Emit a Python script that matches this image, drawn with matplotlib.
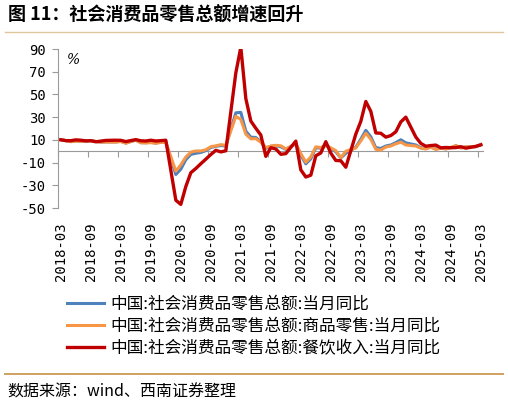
# -*- coding: utf-8 -*-
"""Retail sales growth chart: total, goods retail and catering (yoy)."""

import numpy as np
import matplotlib
matplotlib.use('Agg')
import matplotlib.pyplot as plt
from matplotlib.lines import Line2D

plt.rcParams['font.family'] = ['Noto Sans CJK SC', 'DejaVu Sans']
plt.rcParams['axes.unicode_minus'] = False

# Months with data (January is published together with February):
lstDate = ['2018-%02d' % m for m in range(3, 13)]
for varYr in range(2019, 2025):
    lstDate += ['%d-%02d' % (varYr, m) for m in range(2, 13)]
lstDate += ['2025-02', '2025-03']

# 中国:社会消费品零售总额:当月同比
lstTotal = [10.1, 9.4, 8.5, 9.0, 8.8, 9.0, 9.2, 8.6, 8.1, 8.2,
            8.2, 8.7, 7.2, 8.6, 9.8, 7.6, 7.5, 7.8, 7.2, 8.0, 8.0,
            -20.5, -15.8, -7.5, -2.8, -1.8, -1.1, 0.5, 3.3, 4.3, 5.0, 4.6,
            33.8, 34.2, 17.7, 12.4, 12.1, 8.5, 2.5, 4.4, 4.9, 3.9, 1.7,
            6.7, -3.5, -11.1, -6.7, 3.1, 2.7, 5.4, 2.5, -0.5, -5.9, -1.8,
            3.5, 10.6, 18.4, 12.7, 3.1, 2.5, 4.6, 5.5, 7.6, 10.1, 7.4,
            5.5, 3.1, 2.3, 3.7, 2.0, 2.7, 2.1, 3.2, 4.8, 3.0, 3.7,
            4.0, 5.9]

# 中国:社会消费品零售总额:商品零售:当月同比
lstGoods = [10.1, 9.4, 8.4, 8.9, 8.7, 9.0, 9.2, 8.6, 8.0, 8.1,
            8.0, 8.6, 7.0, 8.5, 9.8, 7.4, 7.3, 7.6, 7.0, 7.8, 7.8,
            -17.6, -12.0, -5.1, -0.8, 0.2, 0.2, 1.3, 4.0, 4.7, 5.8, 5.2,
            30.7, 28.0, 15.1, 10.9, 11.1, 7.9, 3.3, 4.5, 5.2, 4.8, 2.0,
            6.5, -2.1, -9.7, -5.0, 3.9, 3.2, 5.1, 2.9, 0.5, -5.6, 0.0,
            2.9, 9.1, 15.9, 10.5, 1.7, 1.0, 3.7, 4.6, 6.5, 8.0, 5.5,
            4.6, 2.7, 2.0, 3.6, 1.5, 2.7, 2.0, 3.2, 5.0, 2.8, 3.9,
            3.9, 5.9]

# 中国:社会消费品零售总额:餐饮收入:当月同比
lstCater = [10.1, 9.3, 9.3, 10.0, 9.7, 9.1, 9.3, 8.3, 8.9, 9.5,
            9.7, 9.6, 8.5, 9.4, 10.2, 9.2, 9.0, 9.7, 9.0, 9.3, 9.7,
            -43.1, -46.8, -31.1, -18.9, -15.2, -11.0, -7.0, -2.9, 0.8, -0.6,
            0.4,
            68.9, 91.6, 46.4, 26.6, 20.2, 14.3, -4.5, 3.1, 2.0, -2.7, -2.1,
            8.9, -16.4, -22.7, -21.1, -4.0, -1.5, 8.4, -1.7, -8.1, -8.4,
            -14.1,
            15.1, 26.3, 43.8, 35.1, 16.1, 15.8, 12.4, 13.8, 17.1, 25.8, 30.0,
            12.5, 6.9, 4.4, 5.0, 5.4, 3.0, 3.3, 3.1, 3.2, 4.0, 2.7,
            4.3, 5.6]

lstSeriesLbl = ['中国:社会消费品零售总额:当月同比',
                '中国:社会消费品零售总额:商品零售:当月同比',
                '中国:社会消费品零售总额:餐饮收入:当月同比']

lstXlbl = ['2018-03', '2018-09', '2019-03', '2019-09', '2020-03', '2020-09',
           '2021-03', '2021-09', '2022-03', '2022-09', '2023-03', '2023-09',
           '2024-03', '2024-09', '2025-03']
lstYtck = [-50, -30, -10, 10, 30, 50, 70, 90]

strTitle = '图 11：社会消费品零售总额增速回升'
strSource = '数据来源：wind、西南证券整理'


def month_index(strDate):
    """Months since 2018-03."""
    varYr, varMon = strDate.split('-')
    return (int(varYr) - 2018) * 12 + (int(varMon) - 3)


vecX = np.array([month_index(s) for s in lstDate])
vecXlbl = np.array([month_index(s) for s in lstXlbl])

strGry = '#9A9A9A'
lstClr = ['#4F81BD', '#F79646', '#C00000']
lstLne = [2.2, 2.2, 2.4]

# Create figure:
varDpi = 100
fgr01 = plt.figure(figsize=(508.0 / varDpi, 404.0 / varDpi), dpi=varDpi)
axs01 = fgr01.add_axes([0.1148, 0.4851, 0.8366, 0.3936])

# Plot series:
lstHdl = []
for idx, lstVal in enumerate([lstTotal, lstGoods, lstCater]):
    objLne, = axs01.plot(vecX, lstVal, color=lstClr[idx],
                         linewidth=lstLne[idx], label=lstSeriesLbl[idx],
                         solid_joinstyle='round', zorder=3 + idx)
    lstHdl.append(objLne)

# Axis ranges:
axs01.set_xlim(-0.5, 84.5)
axs01.set_ylim(-50, 90)

# Frame: only left axis and a zero line:
axs01.spines['top'].set_visible(False)
axs01.spines['right'].set_visible(False)
axs01.spines['left'].set_color(strGry)
axs01.spines['bottom'].set_color(strGry)
axs01.spines['bottom'].set_position(('data', 0))
axs01.spines['bottom'].set_zorder(2)

# y ticks:
axs01.set_yticks(lstYtck)
axs01.set_yticklabels(['%d' % v for v in lstYtck],
                      family='DejaVu Sans Mono', fontsize=10)
axs01.tick_params(axis='y', length=4, width=0.8, color=strGry, pad=5)

# x tick marks between categories on the zero line:
axs01.set_xticks(np.arange(-0.5, 84.0, 6))
axs01.set_xticklabels([])
axs01.tick_params(axis='x', length=4, width=0.8, color=strGry,
                  direction='out')

# x labels at the bottom of the plot:
axs02 = axs01.secondary_xaxis('bottom')
axs02.set_xticks(vecXlbl)
axs02.set_xticklabels(lstXlbl, family='DejaVu Sans Mono', fontsize=10,
                      rotation=90)
axs02.tick_params(axis='x', length=0, pad=10)
axs02.spines['bottom'].set_visible(False)

# Unit:
axs01.text(0.035, 0.93, '%', transform=axs01.transAxes, fontsize=10,
           family='DejaVu Serif', style='italic', ha='center', va='center')

# Legend:
fgr01.legend(handles=lstHdl, loc='upper left',
             bbox_to_anchor=(67.0 / 508, 1 - 296.0 / 404),
             frameon=False, fontsize=12, handlelength=2.2,
             handletextpad=0.4, labelspacing=0.3, borderpad=0,
             borderaxespad=0)

# Title and rules:
fgr01.text(8.0 / 508, 1 - 15.0 / 404, strTitle, fontsize=13,
           fontweight='bold', ha='left', va='center')
fgr01.add_artist(Line2D([5.0 / 508, 503.0 / 508], [1 - 32.0 / 404] * 2,
                        color='#E0C49A', linewidth=1.0,
                        transform=fgr01.transFigure))
fgr01.add_artist(Line2D([5.0 / 508, 503.0 / 508], [1 - 374.0 / 404] * 2,
                        color='#CFA060', linewidth=1.4,
                        transform=fgr01.transFigure))

# Source:
fgr01.text(7.0 / 508, 1 - 392.0 / 404, strSource, fontsize=11.5,
           ha='left', va='center')

# Save figure:
fgr01.savefig('out.png', dpi=varDpi, facecolor='w')
plt.close(fgr01)
